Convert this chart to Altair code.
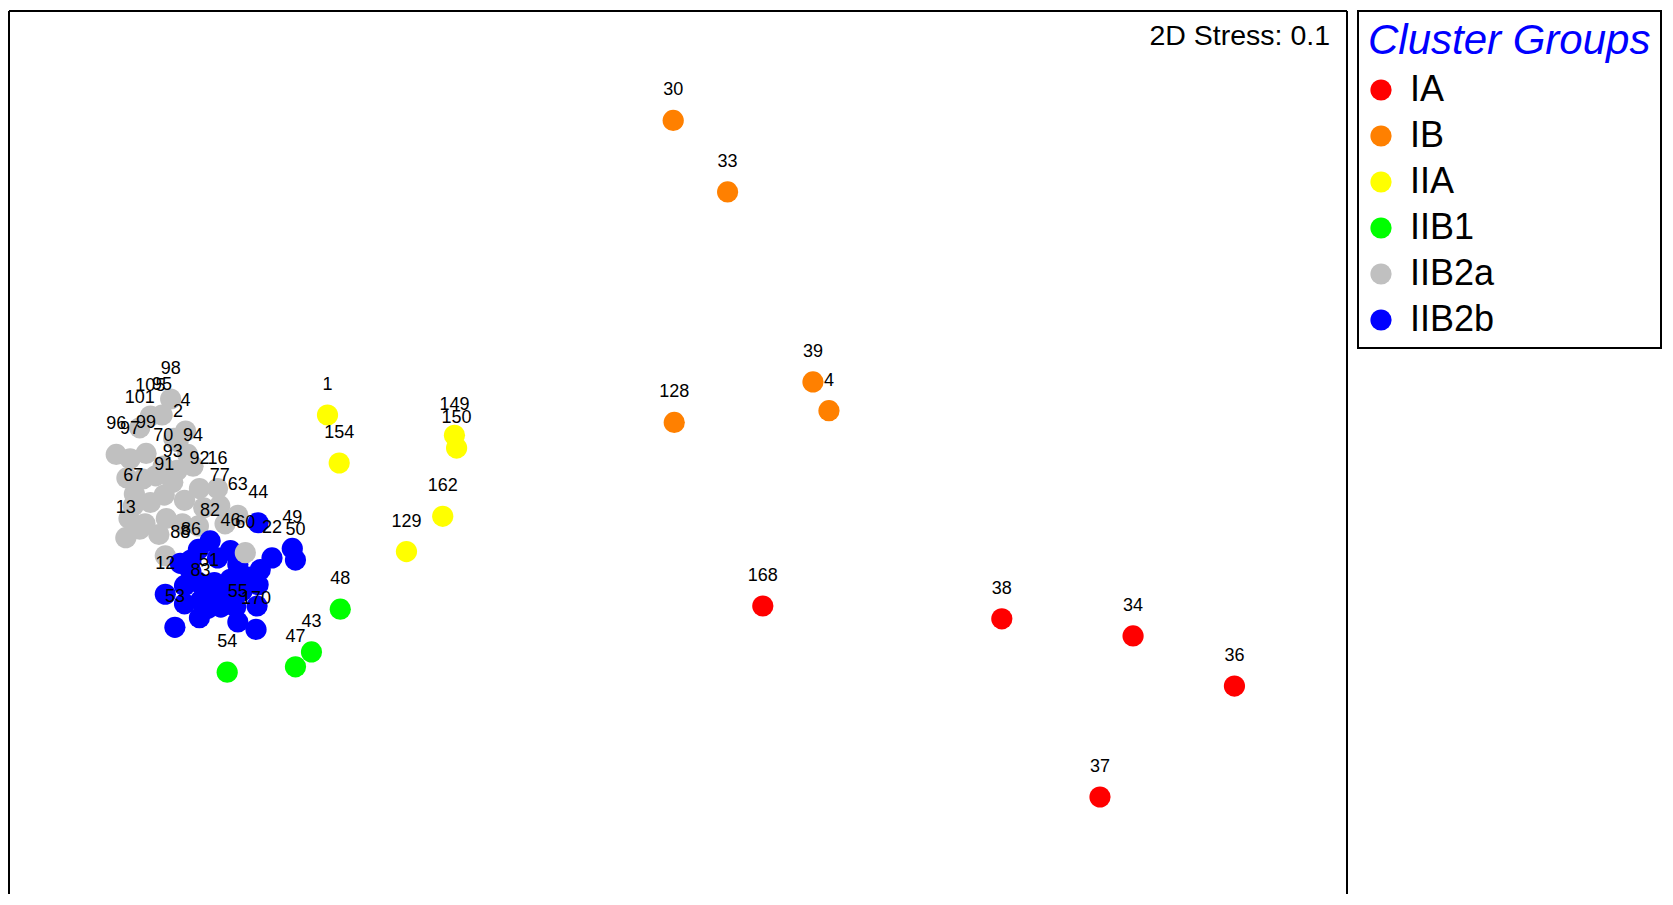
import altair as alt
import pandas as pd

# Groups and colours
groups = ["IA", "IB", "IIA", "IIB1", "IIB2a", "IIB2b"]
colors = ["#FF0000", "#FF8000", "#FFFF00", "#00FF00", "#C0C0C0", "#0000FF"]

# MDS coordinates (arbitrary MDS units, y grows downward)
IA_lab = ["168", "38", "34", "36", "37"]
IA_x = [714, 938, 1061, 1156, 1030]
IA_y = [567, 579, 595, 642, 746]

IB_lab = ["30", "33", "39", "4", "128"]
IB_x = [630, 681, 761, 776, 631]
IB_y = [112, 179, 357, 384, 395]

IIA_lab = ["1", "154", "149", "150", "162", "129"]
IIA_x = [306, 317, 425, 427, 414, 380]
IIA_y = [388, 433, 407, 419, 483, 516]

IIB1_lab = ["48", "43", "47", "54"]
IIB1_x = [318, 291, 276, 212]
IIB1_y = [570, 610, 624, 629]

IIB2a_lab = ["98", "105", "95", "101", "4", "2", "96", "97", "99", "70", "94", "93",
             "91", "67", "", "", "", "92", "16", "77", "", "", "63", "", "", "",
             "", "", "", "", "", "13", "", "", "", "", "", ""]
IIB2a_x = [159, 140, 151, 130, 173, 166, 108, 121, 136, 152, 180, 161,
           153, 124, 133, 118, 145, 186, 203, 205, 190, 172, 222, 210, 125, 140,
           120, 135, 155, 170, 185, 117, 130, 148, 162, 175, 165, 154]
IIB2a_y = [373, 389, 388, 400, 403, 413, 425, 429, 424, 436, 436, 451,
           463, 473, 448, 447, 445, 457, 457, 473, 475, 468, 482, 490, 462, 470,
           485, 490, 485, 490, 492, 503, 495, 500, 410, 425, 440, 520]

IIB2b_lab = ["44", "49", "50", "22", "", "", "", "170", "55", "", "", "53", "12",
             "88", "86", "", "82", "46", "", "", "", "", "", "", "51", "83", "",
             "", "", "", "", "", ""]
IIB2b_x = [241, 273, 276, 254, 241, 243, 240, 239, 222, 186, 194, 163, 154,
           168, 178, 185, 196, 215, 203, 222, 215, 200, 185, 172, 195, 187, 210,
           226, 232, 206, 220, 172, 178]
IIB2b_y = [489, 513, 524, 522, 547, 533, 567, 589, 582, 578, 569, 587, 556,
           527, 524, 514, 506, 515, 522, 528, 542, 545, 545, 548, 553, 562, 556,
           553, 540, 568, 568, 565, 535]

# a grey sample drawn on top of the blue ones
LATE_lab = ["60"]
LATE_x = [229]
LATE_y = [517]

rows = []
for g, labs, xs, ys in [
    ("IB", IB_lab, IB_x, IB_y),
    ("IA", IA_lab, IA_x, IA_y),
    ("IIA", IIA_lab, IIA_x, IIA_y),
    ("IIB1", IIB1_lab, IIB1_x, IIB1_y),
    ("IIB2a", IIB2a_lab, IIB2a_x, IIB2a_y),
    ("IIB2b", IIB2b_lab, IIB2b_x, IIB2b_y),
    ("IIB2a", LATE_lab, LATE_x, LATE_y),
]:
    for l, x, y in zip(labs, xs, ys):
        rows.append({"group": g, "label": l, "mds1": x, "mds2": y})
df = pd.DataFrame(rows)
df["order"] = range(len(df))

W, H = 1338, 883
FONT = "Liberation Sans"
PT = 450

xs = alt.Scale(domain=[7.5, 1261.5], nice=False, zero=False)
ys = alt.Scale(domain=[9.4, 836.9], nice=False, zero=False, reverse=True)

base = alt.Chart(df)

points = base.mark_circle(size=PT, opacity=1).encode(
    x=alt.X("mds1:Q", scale=xs, axis=None),
    y=alt.Y("mds2:Q", scale=ys, axis=None),
    color=alt.Color(
        "group:N",
        scale=alt.Scale(domain=groups, range=colors),
        legend=alt.Legend(
            title="Cluster Groups",
            orient="none",
            legendX=1349,
            legendY=0,
            strokeColor="black",
            fillColor="white",
            padding=10,
            titleFont=FONT,
            titleFontSize=42,
            titleFontStyle="italic",
            titleFontWeight="normal",
            titleColor="#0000FF",
            titlePadding=9,
            titleLimit=500,
            labelFont=FONT,
            labelFontSize=36,
            labelColor="black",
            labelOffset=11,
            labelLimit=400,
            symbolType="circle",
            symbolSize=PT,
            symbolStrokeWidth=0,
            symbolOpacity=1,
            symbolOffset=-5,
            rowPadding=10,
        ),
    ),
    order=alt.Order("order:Q"),
)

labels = base.mark_text(font=FONT, fontSize=18, color="black", dy=-30, baseline="middle").encode(
    x=alt.X("mds1:Q", scale=xs),
    y=alt.Y("mds2:Q", scale=ys),
    text="label:N",
)

one = pd.DataFrame({"a": [0]})
frame_left = alt.Chart(one).mark_rule(color="black", strokeWidth=2).encode(
    x=alt.value(0), y=alt.value(0), y2=alt.value(H))
frame_top = alt.Chart(one).mark_rule(color="black", strokeWidth=2).encode(
    x=alt.value(0), x2=alt.value(W), y=alt.value(0))
frame_right = alt.Chart(one).mark_rule(color="black", strokeWidth=2).encode(
    x=alt.value(W), y=alt.value(0), y2=alt.value(H))

stress = alt.Chart(pd.DataFrame({"t": ["2D Stress: 0.1"]})).mark_text(
    font=FONT, fontSize=28.5, align="right", baseline="middle", color="black"
).encode(x=alt.value(1321), y=alt.value(25), text="t:N")

chart = alt.layer(points, labels, frame_left, frame_top, frame_right, stress).properties(
    width=W, height=H,
    padding={"left": 0, "top": 2, "right": 0, "bottom": 0},
).configure_view(stroke="transparent").configure_legend(strokeWidth=2)

chart.save("out.html", embed_options={"renderer": "svg", "actions": False})
